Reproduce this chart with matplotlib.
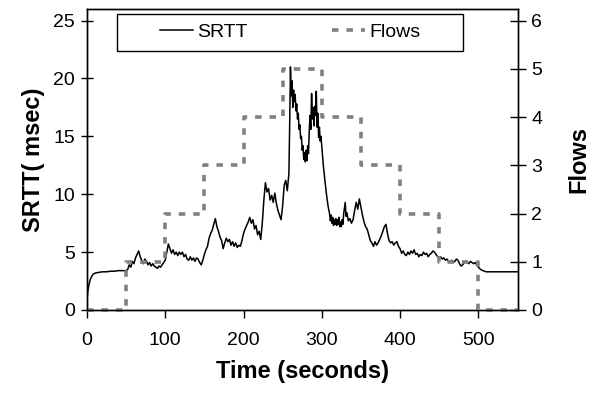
import matplotlib.pyplot as plt
from matplotlib.patches import Rectangle

plt.rcParams['font.family'] = ['Liberation Sans', 'DejaVu Sans']

## Data
srtt_t = [0, 1, 2, 4, 6, 8, 11, 15, 20, 25, 30, 35, 40, 45, 50,
          52, 54, 56, 58, 60, 62, 64, 66, 68, 70, 72, 74, 76, 78, 80,
          82, 84, 86, 88, 90, 92, 94, 96, 98, 100, 102, 104, 106, 108, 110,
          112, 114, 116, 118, 120, 122, 124, 126, 128, 130, 132, 134, 136, 138, 140,
          142, 144, 146, 148, 150, 152, 154, 156, 158, 160, 162, 164, 166, 168, 170,
          172, 174, 176, 178, 180, 182, 184, 186, 188, 190, 192, 194, 196, 198, 200,
          202, 204, 206, 208, 210, 212, 214, 216, 218, 220, 222, 224, 226, 228, 230,
          232, 234, 236, 238, 240, 242, 244, 246, 248, 250, 252, 254, 256,
          258, 259, 260, 261, 262, 263, 264, 265, 266, 267, 268, 269, 270, 271, 272,
          273, 274, 275, 276, 277, 278, 279, 280, 281, 282, 283, 284, 285, 286, 287,
          288, 289, 290, 291, 292, 293, 294, 295, 296, 297, 298, 299, 300, 302, 304,
          306, 308, 310, 311, 312, 313, 314, 315, 316, 317, 318, 319, 320, 321, 322,
          323, 324, 325, 326, 327, 328, 330, 331, 332, 334, 336, 338, 340, 342, 344,
          346, 348, 350, 352, 354, 356, 358, 360, 362, 364,
          366, 368, 370, 372, 374, 376, 378, 380, 382, 384, 386, 388, 390, 392, 394,
          396, 398, 400, 402, 404, 406, 408, 410, 412, 414, 416, 418, 420, 422, 424,
          426, 428, 430, 432, 434, 436, 438, 440, 442, 444, 446, 448, 450, 452, 454,
          456, 458, 460, 462, 464, 466, 468, 470, 472, 474, 476, 478, 480, 482, 484,
          486, 488, 490, 492, 494, 496, 498, 500, 503, 506, 510, 515, 550]
srtt_v = [0.8, 1.6, 2.0, 2.6, 2.9, 3.1, 3.2, 3.25, 3.3, 3.3, 3.35, 3.35, 3.4, 3.4, 3.4,
          3.5, 3.9, 3.7, 4.2, 4.0, 4.5, 4.8, 5.1, 4.6, 4.3, 4.0, 4.4, 4.2, 3.9, 4.1,
          3.8, 4.0, 3.8, 3.7, 3.6, 3.8, 3.7, 3.9, 4.1, 4.3, 5.0, 5.7, 5.3, 4.9, 5.2,
          4.8, 5.0, 4.7, 5.0, 4.8, 5.0, 4.6, 4.8, 4.4, 4.3, 4.6, 4.3, 4.5, 4.2, 4.5,
          4.4, 4.1, 3.9, 4.3, 4.8, 5.2, 5.5, 6.2, 6.6, 6.9, 7.4, 7.9, 7.2, 6.8, 6.3,
          6.0, 5.3, 5.8, 6.2, 5.9, 6.1, 5.6, 5.9, 5.5, 5.8, 5.4, 5.6, 5.5, 6.0, 6.6,
          7.0, 7.3, 7.6, 8.0, 7.5, 7.8, 7.0, 7.3, 6.5, 6.8, 6.1, 7.5, 9.5, 11.0, 10.2,
          10.5, 9.5, 9.9, 9.3, 10.1, 9.2, 8.6, 8.2, 7.8, 9.0, 10.8, 11.2, 10.3,
          11.8, 16.0, 21.0, 18.5, 19.8, 17.5, 19.0, 18.0, 18.6, 17.2, 17.8, 16.5, 17.0, 15.6, 16.0,
          14.8, 15.0, 13.8, 14.2, 13.0, 13.6, 12.8, 13.8, 12.9, 14.2, 13.5, 15.5, 16.8, 15.6, 18.7,
          16.5, 17.5, 15.9, 17.6, 16.8, 18.9, 15.8, 17.0, 14.9, 15.8, 14.6, 15.0, 14.2, 12.5, 11.2,
          10.0, 9.0, 8.3, 7.7, 8.2, 7.5, 8.0, 7.3, 7.8, 7.4, 7.9, 7.3, 7.8, 7.4, 8.0,
          7.2, 7.6, 7.2, 7.8, 7.4, 8.3, 9.3, 8.1, 8.4, 7.7, 7.9, 7.5, 7.8, 8.6, 9.3,
          8.7, 9.6, 8.9, 8.2, 7.6, 7.2, 7.0, 6.5, 6.0, 5.8,
          5.5, 5.9, 5.6, 5.8, 6.1, 6.4, 6.8, 7.2, 7.4, 6.6, 6.0, 5.8, 5.9, 5.6, 5.8,
          5.9, 5.5, 5.3, 4.9, 5.1, 4.8, 4.7, 5.0, 4.8, 5.1, 4.9, 5.2, 4.8, 4.9, 4.6,
          4.8, 4.7, 5.0, 4.8, 4.9, 4.6, 4.8, 4.9, 5.1, 5.0, 4.8, 4.6, 4.5, 4.6, 4.4,
          4.5, 4.3, 4.4, 4.2, 4.1, 4.3, 4.1, 4.2, 4.4, 4.3, 4.0, 3.8, 3.9, 4.1, 4.2,
          4.1, 4.0, 4.2, 4.1, 4.0, 4.1, 3.9, 3.7, 3.5, 3.4, 3.3, 3.3, 3.3]

flows_t = [0, 50, 100, 150, 200, 250, 300, 350, 400, 450, 500, 550]
flows = [0, 1, 2, 3, 4, 5, 4, 3, 2, 1, 0, 0]

fig = plt.figure(figsize=(5.97, 3.93), dpi=100)
ax = fig.add_axes([0.1457, 0.2112, 0.7223, 0.7658])
ax2 = ax.twinx()

# SRTT on the left axis, flows (step) on the right axis
l1, = ax.plot(srtt_t, srtt_v, '-', color='black', lw=1.1)
l2, = ax2.plot(flows_t, flows, color='#808080', lw=2.6, linestyle=(0, (1.8, 2.2)),
               drawstyle='steps-post', clip_on=False)

ax.set_xlim(0, 551)
ax.set_ylim(0, 26)
ax2.set_ylim(0, 6.24)
ax.set_xticks([0, 100, 200, 300, 400, 500])
ax.set_yticks([0, 5, 10, 15, 20, 25])
ax2.set_yticks([0, 1, 2, 3, 4, 5, 6])

ax.tick_params(axis='x', labelsize=14, direction='out', length=6, width=1, pad=10)
ax.tick_params(axis='y', labelsize=14, direction='inout', length=9, width=1, pad=4)
ax2.tick_params(axis='y', labelsize=14, direction='inout', length=11, width=1, pad=4)
for sp in list(ax.spines.values()) + list(ax2.spines.values()):
    sp.set_linewidth(1)

ax.set_xlabel('Time (seconds)', fontsize=17, fontweight='bold', labelpad=8)
ax.set_ylabel('SRTT( msec)', fontsize=17, fontweight='bold', labelpad=6)
ax2.set_ylabel('Flows', fontsize=17, fontweight='bold', labelpad=18)

# legend box with its own frame
box = Rectangle((0.0696, 0.860), 0.8024, 0.125, transform=ax.transAxes,
                facecolor='white', edgecolor='black', lw=1, zorder=4)
ax2.add_patch(box)
leg = ax2.legend([l1, l2], ['SRTT', 'Flows'], ncol=2, loc='center',
                 bbox_to_anchor=(0.471, 0.9225), fontsize=14, frameon=False,
                 handlelength=1.7, handletextpad=0.25, columnspacing=4.3,
                 borderaxespad=0)
leg.set_zorder(5)

fig.savefig('out.png', dpi=100)
